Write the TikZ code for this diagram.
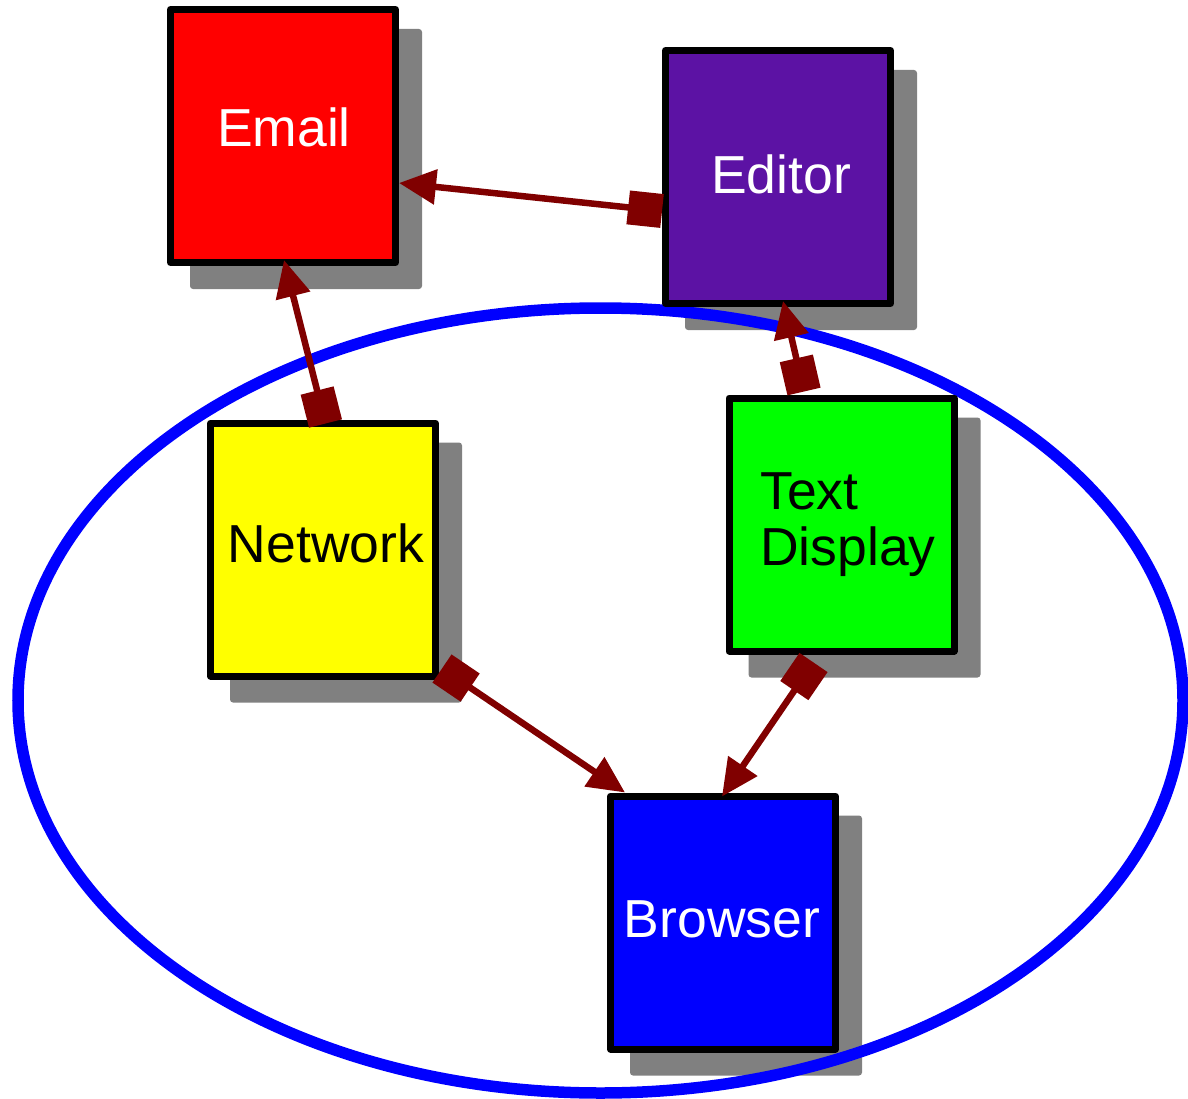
\documentclass[tikz,border=0pt]{standalone}
\usepackage{fontspec}
\setmainfont{Liberation Sans}
\usetikzlibrary{arrows.meta}
\definecolor{boxred}{RGB}{255,0,0}
\definecolor{boxpurple}{RGB}{92,18,164}
\definecolor{boxyellow}{RGB}{255,255,0}
\definecolor{boxgreen}{RGB}{0,255,0}
\definecolor{boxblue}{RGB}{0,0,255}
\definecolor{linkred}{RGB}{128,0,0}
\definecolor{shadowgray}{RGB}{128,128,128}
\begin{document}
\begin{tikzpicture}[x=1pt,y=-1pt,
  box/.style={rectangle, draw=black, line width=7pt, line join=round, minimum width=225pt, minimum height=253pt, inner sep=0pt, outer sep=3.5pt},
  shade/.style={rectangle, fill=shadowgray, rounded corners=3pt, minimum width=232pt, minimum height=260pt, inner sep=0pt},
  lbl/.style={font=\fontsize{53.5}{56}\selectfont, inner sep=0pt, anchor=base},
  link/.style={draw=linkred, line width=6.5pt, {Square[length=34pt,width=34pt]}-{Triangle[length=37pt,width=34pt]}}
]
\useasboundingbox (0,0) rectangle (1188,1099);
% shadows
\node[shade] (emailsh) at (306,159) {};
\node[shade] (editorsh) at (801,200) {};
\node[shade] (networksh) at (346,572.5) {};
\node[shade] (textdisplaysh) at (864.5,547.5) {};
\node[shade] (browsersh) at (746,945.5) {};
% cluster ellipse
\draw[boxblue, line width=11.5pt] (600.5,700.5) ellipse [x radius=582.5pt, y radius=392.5pt];
% boxes
\node[box, fill=boxred] (email) at (283,136) {};
\node[box, fill=boxpurple] (editor) at (778,177) {};
\node[box, fill=boxyellow] (network) at (323,549.5) {};
\node[box, fill=boxgreen] (textdisplay) at (841.5,524.5) {};
\node[box, fill=boxblue] (browser) at (723,922.5) {};
% labels
\node[lbl, text=white] (emaillbl) at (284,147) {Email};
\node[lbl, text=white] (editorlbl) at (781,194) {Editor};
\node[lbl, text=black] (networklbl) at (326,562) {Network};
\node[lbl, text=black, anchor=north west, align=left] (textdisplaylbl) at (760,472.5) {Text\\Display};
\node[lbl, text=white] (browserlbl) at (722,937) {Browser};
% links
\draw[link] ([yshift=-34pt]editor.west) -- ([yshift=-47pt]email.east);
\draw[link] ([xshift=2.5pt,yshift=-4pt]network.north) -- ([xshift=1pt,yshift=6pt]email.south);
\draw[link] ([xshift=-37.5pt,yshift=3pt]textdisplay.north) -- ([xshift=5pt,yshift=6pt]editor.south);
\draw[link] ([xshift=3pt,yshift=-119pt]network.east) -- ([xshift=-98pt]browser.north);
\draw[link] ([xshift=-28pt,yshift=-8pt]textdisplay.south) -- ([xshift=-1pt,yshift=-4pt]browser.north);
\end{tikzpicture}
\end{document}
